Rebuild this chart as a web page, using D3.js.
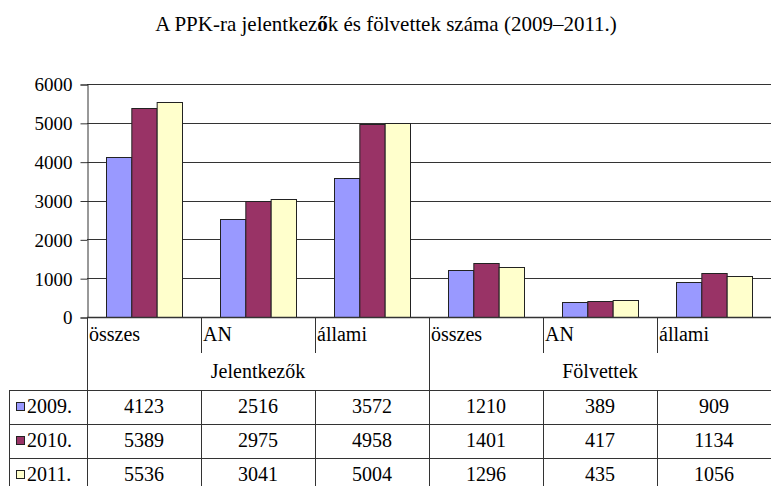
<!DOCTYPE html>
<html>
<head>
<meta charset="utf-8">
<script src="https://cdn.jsdelivr.net/npm/d3@7"></script>
</head>
<body style="margin:0">
<div id="chart"></div>
<script>
var width = 771,
height = 486;

// data
var groups = ["Jelentkezők", "Fölvettek"];
var subcats = ["összes", "AN", "állami"];
var years = ["2009.", "2010.", "2011."];
var values2009 = [4123, 2516, 3572, 1210, 389, 909];
var values2010 = [5389, 2975, 4958, 1401, 417, 1134];
var values2011 = [5536, 3041, 5004, 1296, 435, 1056];
var yTicks = [0, 1000, 2000, 3000, 4000, 5000, 6000];
var colours = ["#9999ff", "#993366", "#ffffcc"];

var series = [values2009, values2010, values2011];
var cats = d3.range(groups.length * subcats.length);

var lineCol = "#333";
var serif = "'Liberation Serif'";

var svg = d3.select("#chart").append("svg")
.attr("width", width)
.attr("height", height);

// helper so every label gets the same serif face
function label(sel, size) {
  return sel
  .attr("font-family", "Liberation Serif, serif")
  .style("font-family", serif)
  .style("font-size", (size || 20) + "px");
}

// title
var title = label(svg.append("text"), 21)
.attr("x", 386)
.attr("y", 31)
.attr("text-anchor", "middle");
title.append("tspan").text("A PPK-ra jelentkez");
title.append("tspan").style("font-weight", "bold").text("ő");
title.append("tspan").text("k és fölvettek száma (2009–2011.)");

var x = d3.scaleBand()
.domain(cats)
.range([87, 771]);

var xs = d3.scaleBand()
.domain(d3.range(years.length))
.range([0, x.bandwidth()])
.paddingOuter(0.75);

var y = d3.scaleLinear()
.domain([0, 6000])
.range([317, 84]);

// gridlines
svg.append("g")
.selectAll("line")
.data(yTicks.slice(1))
.enter().append("line")
.attr("x1", 87).attr("x2", 771)
.attr("y1", function(d) { return Math.round(y(d)) + 0.5; })
.attr("y2", function(d) { return Math.round(y(d)) + 0.5; })
.attr("stroke", lineCol);

// y axis
var yAxis = d3.axisLeft(y)
.tickValues(yTicks)
.tickFormat(d3.format("d"))
.tickSize(7)
.tickPadding(8);

var ya = svg.append("g")
.attr("transform", "translate(87.5,0.5)")
.call(yAxis);
ya.select(".domain").attr("stroke", lineCol);
ya.selectAll(".tick line").attr("stroke", lineCol);
label(ya.selectAll(".tick text"), 19)
.attr("dy", "0.34em");

// bars
series.forEach(function(vals, si) {
  svg.append("g")
  .selectAll("rect")
  .data(cats)
  .enter().append("rect")
  .attr("x", function(c) { return x(c) + xs(si) + 0.5; })
  .attr("y", function(c) { return Math.round(y(vals[c])) + 0.5; })
  .attr("width", xs.bandwidth())
  .attr("height", function(c) { return 317 - Math.round(y(vals[c])); })
  .attr("fill", colours[si])
  .attr("stroke", "#222")
  .attr("stroke-width", 1);
});

// x axis base line
svg.append("line")
.attr("x1", 87).attr("x2", 771)
.attr("y1", 317.5).attr("y2", 317.5)
.attr("stroke", lineCol)
.attr("stroke-width", 1.5);

/////////////////////// data table ///////////////////////
var tableTop = 317, subBottom = 353, rowTop = 390, rowH = 34;
var tbl = svg.append("g");

// category boundaries
var bounds = cats.map(function(c) { return x(c); }).concat([771]);
bounds.forEach(function(b, i) {
  var full = (i % subcats.length === 0);
  tbl.append("line")
  .attr("x1", Math.round(b) + 0.5).attr("x2", Math.round(b) + 0.5)
  .attr("y1", tableTop)
  .attr("y2", full ? height : subBottom)
  .attr("stroke", lineCol);
  if (!full) {
    tbl.append("line")
    .attr("x1", Math.round(b) + 0.5).attr("x2", Math.round(b) + 0.5)
    .attr("y1", rowTop).attr("y2", height)
    .attr("stroke", lineCol);
  }
});

// horizontal row lines
d3.range(years.length).forEach(function(i) {
  tbl.append("line")
  .attr("x1", 9).attr("x2", 771)
  .attr("y1", rowTop + i * rowH + 0.5).attr("y2", rowTop + i * rowH + 0.5)
  .attr("stroke", lineCol);
});
tbl.append("line")
.attr("x1", 9.5).attr("x2", 9.5)
.attr("y1", rowTop).attr("y2", height)
.attr("stroke", lineCol);

// sub category labels
label(tbl.selectAll(".subLabel")
.data(cats)
.enter().append("text"))
.attr("class", "subLabel")
.attr("x", function(c) { return x(c) + 2; })
.attr("y", 341)
.text(function(c) { return subcats[c % subcats.length]; });

// group labels
label(tbl.selectAll(".groupLabel")
.data(groups)
.enter().append("text"))
.attr("class", "groupLabel")
.attr("x", function(g, i) { return (bounds[i * 3] + bounds[i * 3 + 3]) / 2; })
.attr("y", 378)
.attr("text-anchor", "middle")
.text(function(g) { return g; });

// legend keys + values
years.forEach(function(yr, si) {
  var cy = rowTop + si * rowH + rowH / 2;
  tbl.append("rect")
  .attr("x", 16.5).attr("y", Math.round(cy - 5) + 0.5)
  .attr("width", 8).attr("height", 8)
  .attr("fill", colours[si])
  .attr("stroke", "#222");
  label(tbl.append("text"))
  .attr("x", 27)
  .attr("y", cy + 6)
  .text(yr);
  label(tbl.selectAll(".val" + si)
  .data(cats)
  .enter().append("text"))
  .attr("x", function(c) { return x(c) + x.bandwidth() / 2; })
  .attr("y", cy + 6)
  .attr("text-anchor", "middle")
  .text(function(c) { return series[si][c]; });
});
</script>
</body>
</html>
